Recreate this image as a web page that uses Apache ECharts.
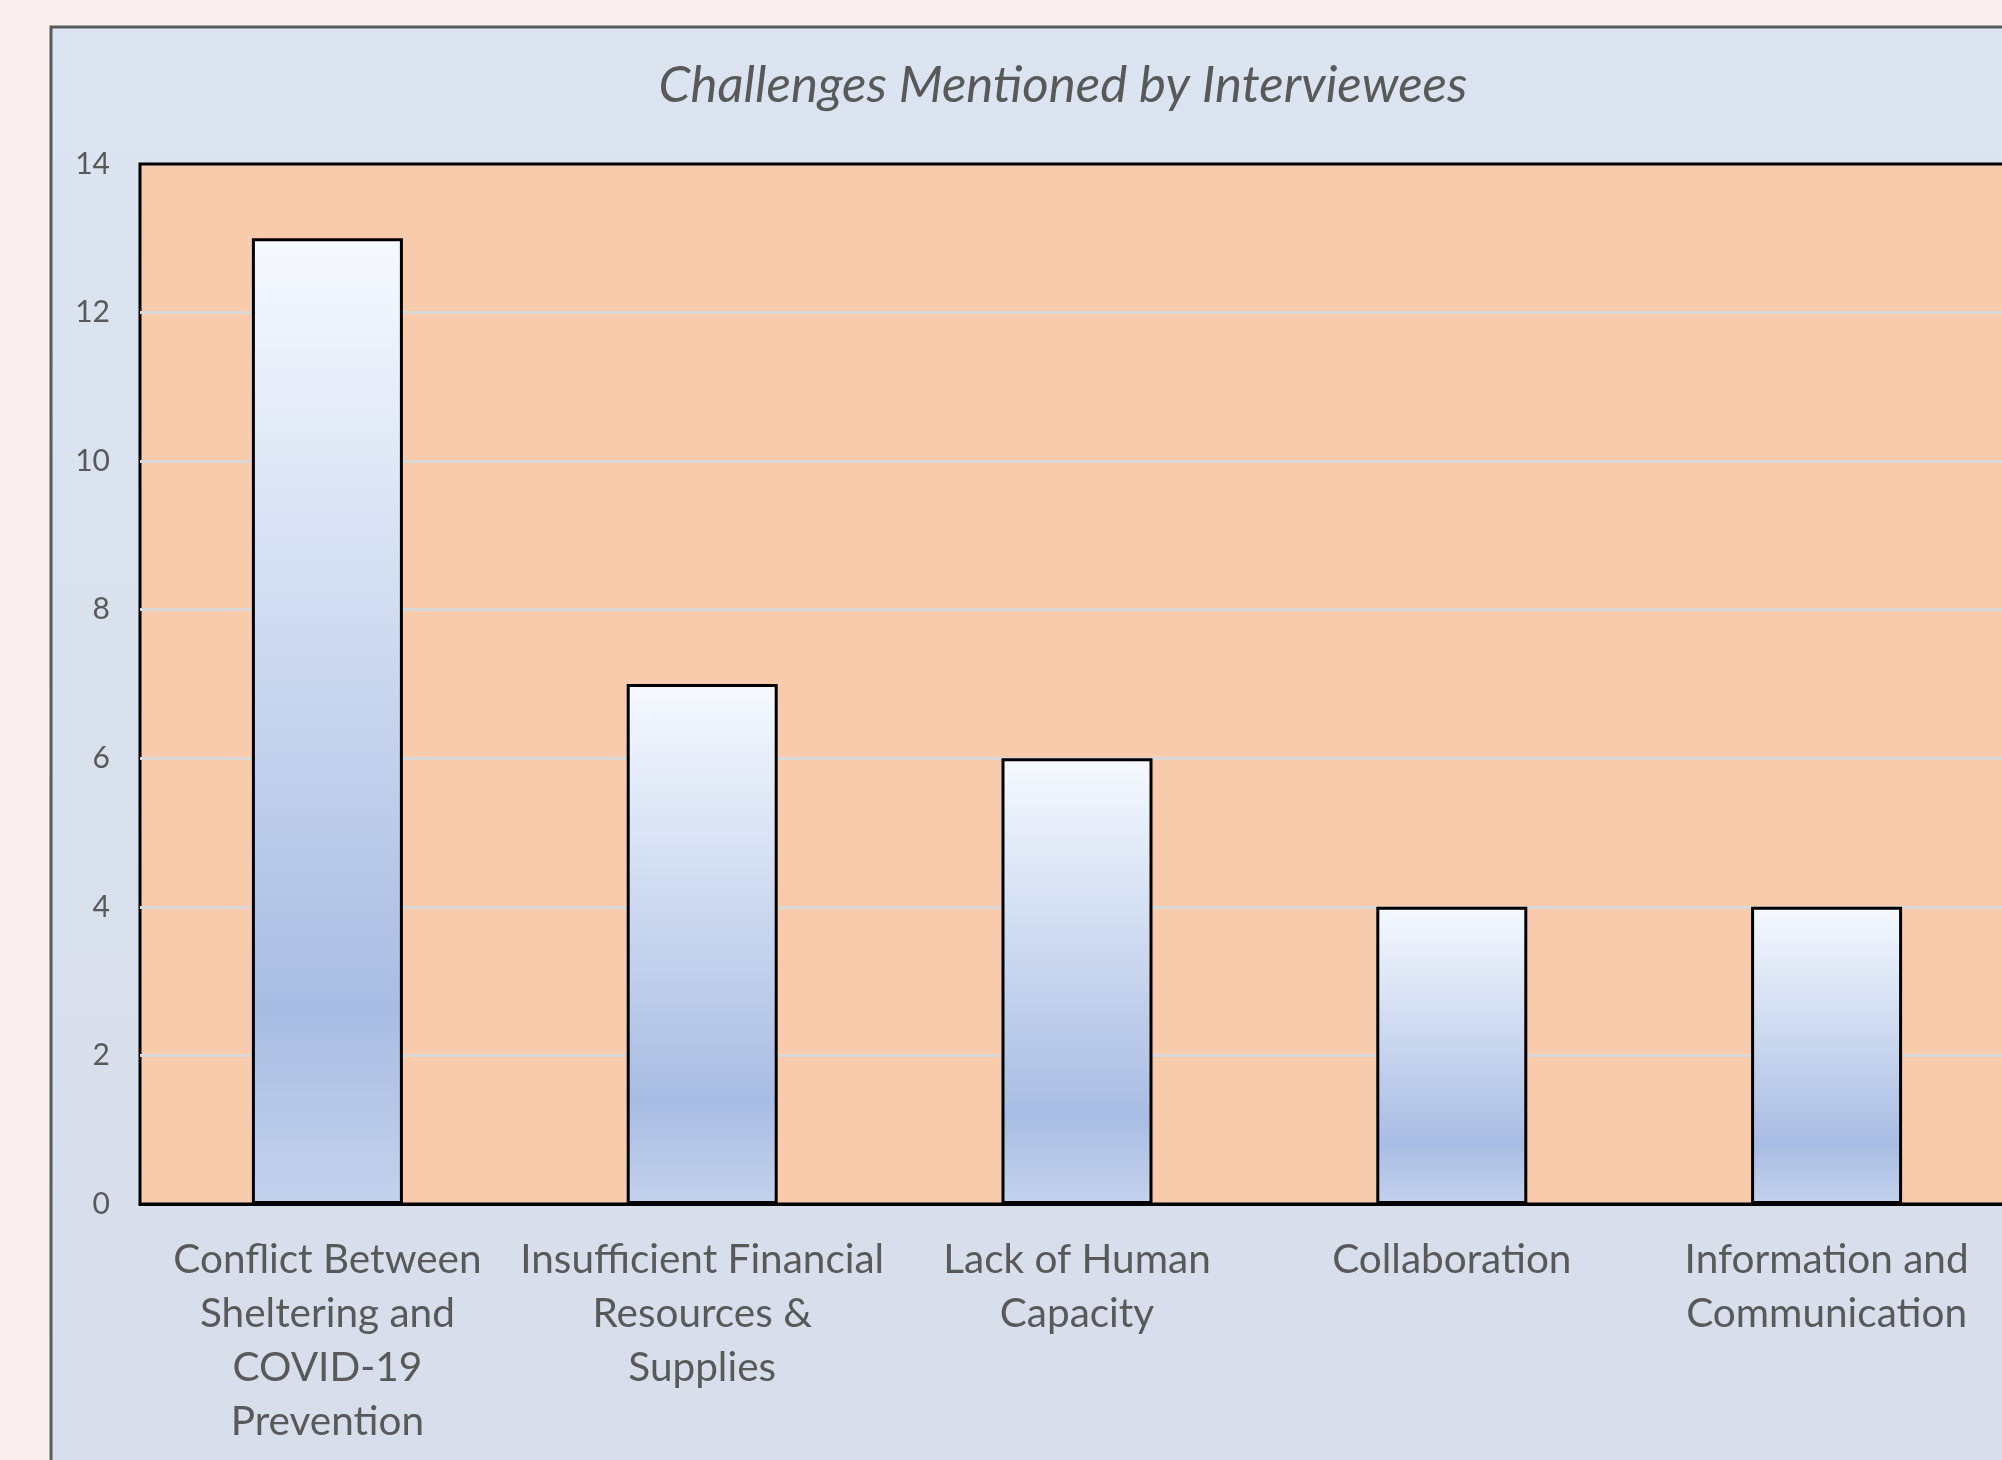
<!DOCTYPE html>
<html>
<head>
<meta charset="utf-8">
<script src="https://cdn.jsdelivr.net/npm/echarts@6/dist/echarts.min.js"></script>
<style>
html,body{margin:0;padding:0;background:#FAF0F1;overflow:hidden;width:2002px;height:1460px;}
#chart{width:2040px;height:1460px;}
</style>
</head>
<body>
<div id="chart"></div>
<script>
const title = 'Challenges Mentioned by Interviewees';
const categories = [
  'Conflict Between\nSheltering and\nCOVID-19\nPrevention',
  'Insufficient Financial\nResources &\nSupplies',
  'Lack of Human\nCapacity',
  'Collaboration',
  'Information and\nCommunication'
];
const mentions = [13, 7, 6, 4, 4];
const yTicks = {min: 0, max: 14, interval: 2};

const chart = echarts.init(document.getElementById('chart'), null, {renderer: 'canvas'});
const barGrad = new echarts.graphic.LinearGradient(0, 0, 0, 1, [
  {offset: 0, color: '#F6F9FE'},
  {offset: 0.45, color: '#CAD7EF'},
  {offset: 0.8, color: '#A9BCE3'},
  {offset: 1, color: '#C3D2EC'}
]);
chart.setOption({
  backgroundColor: '#FAF0F1',
  animation: false,
  title: {
    text: title,
    left: 1058,
    textAlign: 'center',
    top: 55,
    textStyle: {fontFamily: 'Lato', fontStyle: 'italic', fontWeight: 'normal', fontSize: 51, color: '#595959'}
  },
  graphic: {
    z: -100,
    elements: [{
      type: 'rect',
      z: -100,
      shape: {x: 51, y: 27, width: 2100, height: 1600},
      style: {
        fill: new echarts.graphic.LinearGradient(0, 0, 0, 1, [
          {offset: 0, color: '#DBE4F0'},
          {offset: 1, color: '#D7DDEA'}
        ]),
        stroke: '#5A5A5A',
        lineWidth: 3
      }
    }]
  },
  grid: {
    left: 140, top: 164, width: 1874, height: 1040,
    show: true, backgroundColor: '#F8CBAD', borderColor: '#000000', borderWidth: 3
  },
  xAxis: {
    type: 'category',
    data: categories,
    axisLine: {lineStyle: {color: '#000000', width: 3}},
    axisTick: {show: false},
    axisLabel: {
      interval: 0, margin: 29, color: '#595959', fontFamily: 'Lato', fontSize: 40.5, lineHeight: 54
    }
  },
  yAxis: {
    type: 'value',
    min: yTicks.min, max: yTicks.max, interval: yTicks.interval,
    axisLine: {show: false},
    axisTick: {show: false},
    splitLine: {showMaxLine: false, showMinLine: false, lineStyle: {color: '#D9D9D9', width: 3}},
    axisLabel: {margin: 30, color: '#595959', fontFamily: 'Lato', fontSize: 30}
  },
  series: [{
    type: 'bar',
    data: mentions,
    barWidth: 151,
    itemStyle: {color: barGrad, borderColor: '#000000', borderWidth: 3}
  }]
});
</script>
</body>
</html>
